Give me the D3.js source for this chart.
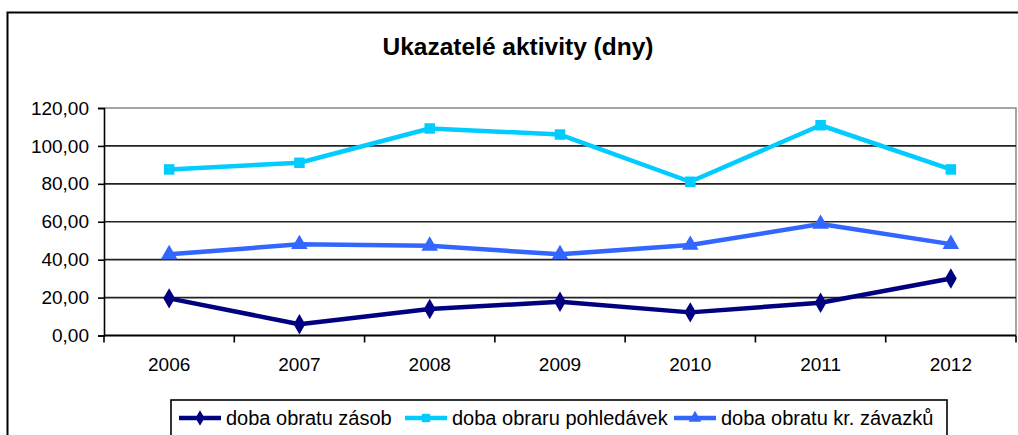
<!DOCTYPE html>
<html>
<head>
<meta charset="utf-8">
<script src="https://cdn.jsdelivr.net/npm/d3@7"></script>
<style>
  body { margin: 0; background: #fff; }
  svg { display: block; font-family: "Liberation Sans", Arial, sans-serif; }
</style>
</head>
<body>
<svg id="chart" width="1018" height="435"></svg>
<script>
// data
var years = ["2006", "2007", "2008", "2009", "2010", "2011", "2012"];
var zasob = [19.6, 5.9, 14.0, 17.8, 12.2, 17.3, 30.1];
var pohledavek = [87.6, 91.1, 109.2, 106.0, 81.1, 110.9, 87.6];
var zavazku = [42.8, 48.1, 47.3, 42.8, 47.7, 58.8, 48.2];
var yTicks = [0, 20, 40, 60, 80, 100, 120];
var seriesNames = ["doba obratu zásob", "doba obraru pohledávek", "doba obratu kr. závazků"];

var series = [
  { name: seriesNames[0], values: zasob, color: "#000080", symbol: d3.symbolDiamond },
  { name: seriesNames[1], values: pohledavek, color: "#00CCFF", symbol: d3.symbolSquare },
  { name: seriesNames[2], values: zavazku, color: "#3366FF", symbol: d3.symbolTriangle }
];

var svg = d3.select("#chart");

// outer chart frame (runs off the right and bottom)
svg.append("rect")
  .attr("x", 7.5).attr("y", 12.5)
  .attr("width", 1040).attr("height", 460)
  .attr("fill", "#fff").attr("stroke", "#000").attr("stroke-width", 2);

svg.append("text")
  .attr("x", 518).attr("y", 55)
  .attr("text-anchor", "middle")
  .style("font-size", "24.5px")
  .style("font-weight", "bold")
  .text("Ukazatelé aktivity (dny)");

var plotL = 104, plotR = 1016, plotT = 108, plotB = 335.5;

var x = d3.scaleBand().domain(years).range([plotL, plotR]).padding(0);
var y = d3.scaleLinear().domain([0, 120]).range([plotB, plotT]);

// plot area border (gray)
svg.append("path")
  .attr("d", "M" + plotL + "," + plotT + "H" + plotR + "V" + plotB)
  .attr("fill", "none").attr("stroke", "#888").attr("stroke-width", 1.5);

// gridlines
svg.append("g")
  .selectAll("line")
  .data(yTicks.filter(function(d){ return d > 0 && d < 120; }))
  .join("line")
  .attr("x1", plotL).attr("x2", plotR)
  .attr("y1", function(d){ return y(d); })
  .attr("y2", function(d){ return y(d); })
  .attr("stroke", "#222").attr("stroke-width", 1.6);

// y axis
var yAxis = svg.append("g")
  .attr("transform", "translate(" + plotL + ",0)")
  .call(d3.axisLeft(y).tickValues(yTicks).tickSize(6).tickPadding(9)
    .tickFormat(function(d){ return d3.format(".2f")(d).replace(".", ","); }));
yAxis.select(".domain").attr("stroke", "#000").attr("stroke-width", 1.6);
yAxis.selectAll(".tick line").attr("stroke", "#000").attr("stroke-width", 1.6);
yAxis.selectAll("text").style("font-size", "19px").attr("fill", "#000")
  .attr("font-family", "Liberation Sans, Arial, sans-serif");

// x axis with ticks on category boundaries
var xAxisG = svg.append("g");
xAxisG.append("line")
  .attr("x1", plotL).attr("x2", plotR)
  .attr("y1", plotB).attr("y2", plotB)
  .attr("stroke", "#000").attr("stroke-width", 2);
xAxisG.selectAll("line.tick")
  .data(years.concat(["end"]))
  .join("line")
  .attr("class", "tick")
  .attr("x1", function(d, i){ return plotL + i * x.bandwidth(); })
  .attr("x2", function(d, i){ return plotL + i * x.bandwidth(); })
  .attr("y1", plotB).attr("y2", plotB + 7)
  .attr("stroke", "#000").attr("stroke-width", 1.6);
xAxisG.selectAll("text")
  .data(years)
  .join("text")
  .attr("x", function(d){ return x(d) + x.bandwidth() / 2; })
  .attr("y", 371)
  .attr("text-anchor", "middle")
  .style("font-size", "19px")
  .text(function(d){ return d; });

// lines and markers
var line = d3.line()
  .x(function(d, i){ return x(years[i]) + x.bandwidth() / 2; })
  .y(function(d){ return y(d); });

series.forEach(function(s){
  var g = svg.append("g");
  g.append("path")
    .attr("d", line(s.values))
    .attr("fill", "none")
    .attr("stroke", s.color)
    .attr("stroke-width", 4.5)
    .attr("stroke-linejoin", "round");
  g.selectAll("path.marker")
    .data(s.values)
    .join("path")
    .attr("class", "marker")
    .attr("transform", function(d, i){
      return "translate(" + (x(years[i]) + x.bandwidth() / 2) + "," + y(d) + ")";
    })
    .attr("d", d3.symbol().type(s.symbol).size(s.symbol === d3.symbolSquare ? 110 : 120))
    .attr("fill", s.color);
});

// legend
var legend = svg.append("g");
legend.append("rect")
  .attr("x", 171).attr("y", 400)
  .attr("width", 776).attr("height", 50)
  .attr("fill", "#fff").attr("stroke", "#000").attr("stroke-width", 1.6);

var legendX = [179, 405, 674];
series.forEach(function(s, i){
  var lg = legend.append("g").attr("transform", "translate(" + legendX[i] + ",418)");
  lg.append("line")
    .attr("x1", 0).attr("x2", 42).attr("y1", 0).attr("y2", 0)
    .attr("stroke", s.color).attr("stroke-width", 4.5);
  lg.append("path")
    .attr("transform", "translate(21,0)")
    .attr("d", d3.symbol().type(s.symbol).size(70))
    .attr("fill", s.color);
  lg.append("text")
    .attr("x", 47).attr("y", 7)
    .style("font-size", "20px")
    .text(s.name);
});
</script>
</body>
</html>
